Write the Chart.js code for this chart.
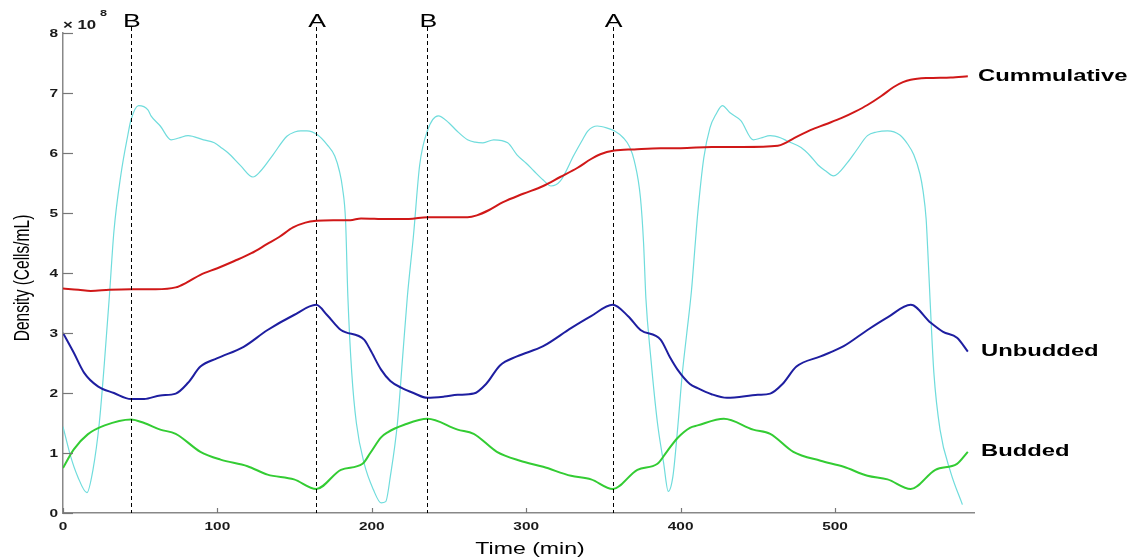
<!DOCTYPE html>
<html lang="en">
<head>
<meta charset="UTF-8">
<title>Density vs Time</title>
<script src="https://cdn.jsdelivr.net/npm/chart.js"></script>
<style>
  body { margin: 0; background: #fff; }
  canvas { display: block; }
</style>
</head>
<body>
<canvas id="chart" width="1133" height="560"></canvas>
<script>
// values: time in min, density in 10^8 cells/mL
const cumTime = [0, 10, 18, 30, 44, 60, 73, 80, 89, 100, 111, 122, 132, 140, 149, 157, 164, 175, 186, 193, 210, 224, 236, 250, 262, 268, 276, 285, 298, 311, 322, 333, 342, 348, 357, 370, 387, 400, 420, 440, 463, 468, 473, 484, 494, 504, 513, 521, 530, 538, 544, 549, 560, 575, 586];
const cumDensity = [3.74, 3.72, 3.70, 3.72, 3.73, 3.73, 3.76, 3.84, 3.97, 4.08, 4.20, 4.33, 4.48, 4.60, 4.76, 4.84, 4.87, 4.88, 4.88, 4.91, 4.90, 4.90, 4.93, 4.93, 4.93, 4.96, 5.05, 5.18, 5.32, 5.45, 5.60, 5.75, 5.90, 5.98, 6.04, 6.06, 6.08, 6.08, 6.10, 6.10, 6.12, 6.17, 6.24, 6.38, 6.48, 6.58, 6.69, 6.80, 6.95, 7.10, 7.18, 7.22, 7.25, 7.26, 7.28];

const unbTime = [0, 7, 13.6, 22.6, 33, 44, 52.6, 63, 73, 81, 89, 100, 117, 132.5, 149.6, 164, 171, 180, 195, 199, 206, 212, 219, 227, 236, 247, 255.6, 266, 274, 283, 294, 311, 329, 342, 356, 366, 374, 387, 393, 398, 406, 411, 420, 430, 450, 458, 466, 475, 490.6, 505.6, 521, 534, 549, 562, 570, 579, 586];
const unbDensity = [3.0, 2.67, 2.34, 2.11, 2.0, 1.9, 1.9, 1.96, 1.99, 2.17, 2.44, 2.58, 2.77, 3.05, 3.3, 3.47, 3.3, 3.05, 2.89, 2.72, 2.39, 2.2, 2.09, 2.0, 1.92, 1.94, 1.97, 1.99, 2.15, 2.46, 2.61, 2.78, 3.08, 3.28, 3.47, 3.28, 3.05, 2.89, 2.6, 2.39, 2.15, 2.08, 1.98, 1.92, 1.97, 1.99, 2.15, 2.44, 2.61, 2.78, 3.05, 3.26, 3.47, 3.17, 3.02, 2.92, 2.69];

const budTime = [0, 7, 16, 27, 44, 52.6, 63, 73, 89, 102, 119.5, 132.5, 149.6, 164, 180, 194, 199, 206, 210, 221, 236, 255.6, 266, 281, 296, 311, 329, 342, 356, 372, 385, 391, 398, 406, 411, 428, 447, 458, 473, 490.6, 505.6, 521, 534, 549, 565, 579, 586];
const budDensity = [0.75, 1.06, 1.31, 1.46, 1.56, 1.5, 1.39, 1.32, 1.02, 0.89, 0.78, 0.64, 0.56, 0.4, 0.72, 0.82, 1.0, 1.26, 1.34, 1.47, 1.57, 1.39, 1.32, 1.02, 0.87, 0.77, 0.62, 0.56, 0.4, 0.72, 0.82, 1.02, 1.25, 1.42, 1.46, 1.57, 1.39, 1.32, 1.02, 0.87, 0.77, 0.62, 0.56, 0.4, 0.72, 0.82, 1.02];

const cyanTime = [0, 5, 9.5, 15.5, 19.4, 23.5, 26.8, 30, 33, 37.5, 42, 44, 49, 55, 57, 63, 70, 75, 81, 91, 98, 103, 107, 115, 123, 128, 136, 145, 150, 154, 158, 165, 171, 176, 179, 181, 183, 184.5, 187, 190, 195, 201, 206, 209, 212, 216.6, 220, 223, 227, 231, 236, 243, 250, 255, 262, 267, 272, 279, 288, 294, 300, 305, 311, 316, 322, 331, 336, 340, 346, 352, 357, 363, 367, 370, 374, 376, 377.5, 380.6, 385, 389, 392, 395, 398, 401, 404, 407, 409.5, 411, 415, 419, 423, 427, 432, 439, 447, 452, 458, 465, 469, 478, 484, 489, 494, 499, 508, 514, 521, 527, 534, 542, 547, 551, 555, 557, 559, 560, 561.5, 564, 568, 575, 582.5];
const cyanDensity = [1.44, 0.94, 0.61, 0.34, 0.72, 1.5, 2.5, 3.6, 4.7, 5.64, 6.3, 6.55, 6.79, 6.72, 6.62, 6.45, 6.22, 6.25, 6.29, 6.22, 6.17, 6.08, 6.0, 5.79, 5.6, 5.7, 5.97, 6.28, 6.35, 6.37, 6.37, 6.3, 6.14, 5.95, 5.7, 5.42, 4.87, 3.6, 2.34, 1.5, 0.83, 0.39, 0.17, 0.19, 0.61, 1.5, 2.61, 3.6, 4.63, 5.8, 6.37, 6.62, 6.5, 6.37, 6.22, 6.18, 6.17, 6.22, 6.17, 5.97, 5.83, 5.7, 5.55, 5.45, 5.53, 5.97, 6.2, 6.37, 6.45, 6.42, 6.37, 6.25, 6.1, 5.87, 5.25, 4.5, 3.58, 2.61, 1.5, 0.83, 0.36, 0.61, 1.39, 2.3, 3.0, 3.7, 4.5, 4.97, 5.92, 6.42, 6.65, 6.79, 6.67, 6.54, 6.22, 6.25, 6.29, 6.25, 6.2, 6.09, 5.95, 5.8, 5.7, 5.62, 5.84, 6.05, 6.29, 6.35, 6.37, 6.3, 6.15, 5.97, 5.65, 5.37, 4.9, 4.41, 3.58, 2.34, 1.39, 0.67, 0.14];

const phaseTimes = [44, 164, 236, 356];
const phaseLabels = ['B', 'A', 'B', 'A'];
const xTicks = [0, 100, 200, 300, 400, 500];
const yTicks = [0, 1, 2, 3, 4, 5, 6, 7, 8];

const pts = (xs, ys) => xs.map((x, i) => ({ x: x, y: ys[i] }));

// the original figure is stretched sideways, so text is too
const STRETCH = 1.4;
function stretchText(ctx, text, x, y, font, align, base) {
    ctx.save();
    ctx.translate(x, y);
    ctx.scale(STRETCH, 1);
    ctx.font = font;
    ctx.textAlign = align;
    ctx.textBaseline = base;
    ctx.fillText(text, 0, 0);
    ctx.restore();
}

const decorations = {
    id: 'decorations',
    afterDatasetsDraw(chart) {
        const ctx = chart.ctx;
        const xs = chart.scales.x, ys = chart.scales.y;
        const area = chart.chartArea;

        // phase markers
        ctx.save();
        ctx.strokeStyle = '#000';
        ctx.lineWidth = 1;
        ctx.setLineDash([4, 3]);
        phaseTimes.forEach((t) => {
            const px = Math.round(xs.getPixelForValue(t)) + 0.5;
            ctx.beginPath();
            ctx.moveTo(px, area.top - 6);
            ctx.lineTo(px, area.bottom);
            ctx.stroke();
        });
        ctx.restore();
        ctx.fillStyle = '#000';
        phaseTimes.forEach((t, i) => {
            stretchText(ctx, phaseLabels[i], xs.getPixelForValue(t) + 1, 27, '19px "Liberation Sans", Arial', 'center', 'alphabetic');
        });

        // inward tick marks
        ctx.save();
        ctx.strokeStyle = '#777';
        ctx.lineWidth = 1.2;
        xs.ticks.forEach((tk) => {
            const px = Math.round(xs.getPixelForValue(tk.value)) + 0.5;
            ctx.beginPath();
            ctx.moveTo(px, area.bottom);
            ctx.lineTo(px, area.bottom - 5);
            ctx.stroke();
        });
        ys.ticks.forEach((tk) => {
            const py = Math.round(ys.getPixelForValue(tk.value)) + 0.5;
            ctx.beginPath();
            ctx.moveTo(area.left, py);
            ctx.lineTo(area.left + 10, py);
            ctx.stroke();
        });
        ctx.restore();

        // tick labels
        ctx.fillStyle = '#1a1a1a';
        const tickFont = 'bold 11px "Liberation Sans", Arial';
        xs.ticks.forEach((tk) => {
            stretchText(ctx, String(tk.value), xs.getPixelForValue(tk.value), area.bottom + 14, tickFont, 'center', 'middle');
        });
        ys.ticks.forEach((tk) => {
            stretchText(ctx, String(tk.value), area.left - 5, ys.getPixelForValue(tk.value) + 1, tickFont, 'right', 'middle');
        });
        stretchText(ctx, '\u00d7 10', area.left, area.top - 4, 'bold 12px "Liberation Sans", Arial', 'left', 'alphabetic');
        stretchText(ctx, '8', area.left + 37, area.top - 17, 'bold 9px "Liberation Sans", Arial', 'left', 'alphabetic');

        // axis titles
        ctx.fillStyle = '#000';
        stretchText(ctx, 'Time (min)', 530, 549, '16.5px "Liberation Sans", Arial', 'center', 'middle');
        ctx.save();
        ctx.translate(23, 278);
        ctx.scale(STRETCH, 1);
        ctx.rotate(-Math.PI / 2);
        ctx.font = '15.5px "Liberation Sans", Arial';
        ctx.textAlign = 'center';
        ctx.textBaseline = 'middle';
        ctx.fillText('Density (Cells/mL)', 0, 0);
        ctx.restore();

        // series names next to the line ends
        const labelFont = 'bold 17px "Liberation Sans", Arial';
        const endX = xs.getPixelForValue(590) + 4;
        stretchText(ctx, 'Cummulative', endX, ys.getPixelForValue(cumDensity[cumDensity.length - 1]), labelFont, 'left', 'middle');
        stretchText(ctx, 'Unbudded', endX + 3, ys.getPixelForValue(unbDensity[unbDensity.length - 1]), labelFont, 'left', 'middle');
        stretchText(ctx, 'Budded', endX + 3, ys.getPixelForValue(budDensity[budDensity.length - 1]), labelFont, 'left', 'middle');
    }
};

const line = (label, data, color, width) => ({
    label: label,
    data: data,
    borderColor: color,
    borderWidth: width,
    pointRadius: 0,
    fill: false,
    cubicInterpolationMode: 'monotone'
});

new Chart(document.getElementById('chart'), {
    type: 'line',
    data: {
        datasets: [
            line('Cummulative', pts(cumTime, cumDensity), '#d01818', 2),
            line('Unbudded', pts(unbTime, unbDensity), '#1e1ea0', 2),
            line('Budded', pts(budTime, budDensity), '#33cc33', 2),
            line('Density', pts(cyanTime, cyanDensity), '#6fdcdc', 1.2)
        ]
    },
    options: {
        responsive: false,
        animation: false,
        layout: { padding: { left: 55, right: 159, top: 33, bottom: 39 } },
        plugins: { legend: { display: false }, tooltip: { enabled: false } },
        scales: {
            x: {
                type: 'linear',
                min: 0,
                max: 590,
                afterBuildTicks: (s) => { s.ticks = xTicks.map((v) => ({ value: v })); },
                ticks: { display: false },
                grid: { display: false },
                border: { display: true, color: '#888', width: 1.5 }
            },
            y: {
                min: 0,
                max: 8,
                afterBuildTicks: (s) => { s.ticks = yTicks.map((v) => ({ value: v })); },
                ticks: { display: false },
                grid: { display: false },
                border: { display: true, color: '#888', width: 1.5 }
            }
        }
    },
    plugins: [decorations]
});
</script>
</body>
</html>
